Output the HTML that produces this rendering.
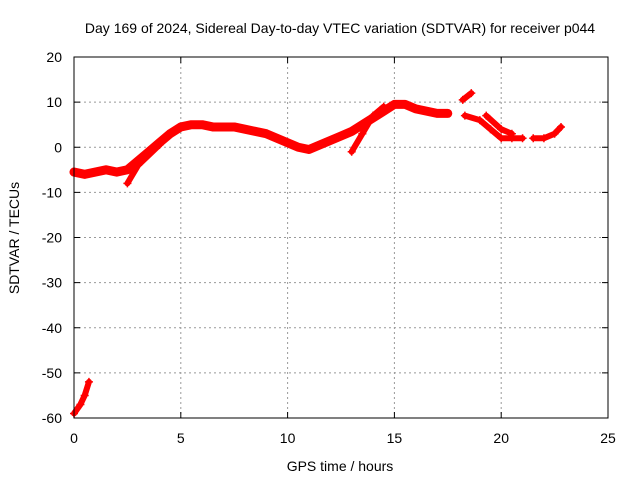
<!DOCTYPE html>
<html><head><meta charset="utf-8"><style>
body{margin:0;background:#fff}
svg{display:block;font-family:"Liberation Sans",sans-serif}
</style></head><body>
<svg id="c" width="640" height="480">
<text x="340" y="33" font-size="14" text-anchor="middle">Day 169 of 2024, Sidereal Day-to-day VTEC variation (SDTVAR) for receiver p044</text>
<text x="340" y="471" font-size="14" text-anchor="middle">GPS time / hours</text>
<text transform="translate(19,238) rotate(-90)" font-size="14" text-anchor="middle">SDTVAR / TECUs</text>
<g id="grid"></g><g id="data"></g>
<rect x="74" y="57" width="534" height="361" fill="none" stroke="#000"/>
</svg>
<script>
const xTicks=[0,5,10,15,20,25];
const yTicks=[20,10,0,-10,-20,-30,-40,-50,-60];
const track1=[[0,-5.5],[0.5,-6],[1,-5.5],[1.5,-5],[2,-5.5],[2.5,-5],[3,-3],[3.5,-1],[4,1],[4.5,3],[5,4.5],[5.5,5],[6,5],[6.5,4.5],[7,4.5],[7.5,4.5],[8,4],[8.5,3.5],[9,3],[9.5,2],[10,1],[10.5,0],[11,-0.5],[11.5,0.5],[12,1.5],[12.5,2.5],[13,3.5],[13.5,5],[14,6.5],[14.5,8],[15,9.5],[15.5,9.5],[16,8.5],[16.5,8],[17,7.5],[17.5,7.5]];
const track2=[[18.3,7],[19,6],[19.5,4],[20,2],[20.5,2],[21,2]];
const track3=[[19.3,7],[20,4],[20.5,3]];
const track4=[[21.5,2],[22,2],[22.5,3],[22.8,4.5]];
const track5=[[18.2,10.5],[18.6,12]];
const track6=[[0,-59],[0.3,-57],[0.5,-55],[0.7,-52]];
const track7=[[13,-1],[13.5,3],[14,7],[14.5,9]];
const track8=[[2.5,-8],[3,-4],[4,0.5]];
const tracks=[track1,track2,track3,track4,track5,track6,track7,track8];
const X=h=>74+h*534/25, Y=v=>57+(20-v)*361/80;
const NS="http://www.w3.org/2000/svg";
const g=document.getElementById('grid'), d=document.getElementById('data');
function mk(tag,a,p){const e=document.createElementNS(NS,tag);for(const k in a)e.setAttribute(k,a[k]);p.appendChild(e);return e;}
xTicks.forEach(t=>{
 if(t>0&&t<25){const l=mk('line',{x1:X(t),x2:X(t),y1:57,y2:418,stroke:'#999','stroke-dasharray':'2,3'},g);
 
 }
 mk('line',{x1:X(t),x2:X(t),y1:418,y2:412,stroke:'#000'},g);
 mk('line',{x1:X(t),x2:X(t),y1:57,y2:63,stroke:'#000'},g);
 const tx=mk('text',{x:X(t),y:443,'font-size':14,'text-anchor':'middle'},g);tx.textContent=t;
 
 
});
yTicks.forEach(t=>{
 if(t>-60&&t<20){const l=mk('line',{x1:74,x2:608,y1:Y(t),y2:Y(t),stroke:'#999','stroke-dasharray':'2,3'},g);
 
 }
 mk('line',{x1:74,x2:80,y1:Y(t),y2:Y(t),stroke:'#000'},g);
 mk('line',{x1:602,x2:608,y1:Y(t),y2:Y(t),stroke:'#000'},g);
 const tx=mk('text',{x:62,y:Y(t)+5,'font-size':14,'text-anchor':'end'},g);tx.textContent=t;
 
 
});
tracks.forEach((tr,i)=>{
 const p=mk('polyline',{points:tr.map(q=>X(q[0])+','+Y(q[1])).join(' '),fill:'none',stroke:'#f00','stroke-width':i==0?9:6,'stroke-linejoin':'round','stroke-linecap':'round'},d);
 
 
 tr.forEach(q=>{const m=mk('path',{d:`M${X(q[0])-4},${Y(q[1])}h8M${X(q[0])},${Y(q[1])-4}v8`,stroke:'#f00','stroke-width':1.5},d);
 
 });
});
</script>
</body></html>
